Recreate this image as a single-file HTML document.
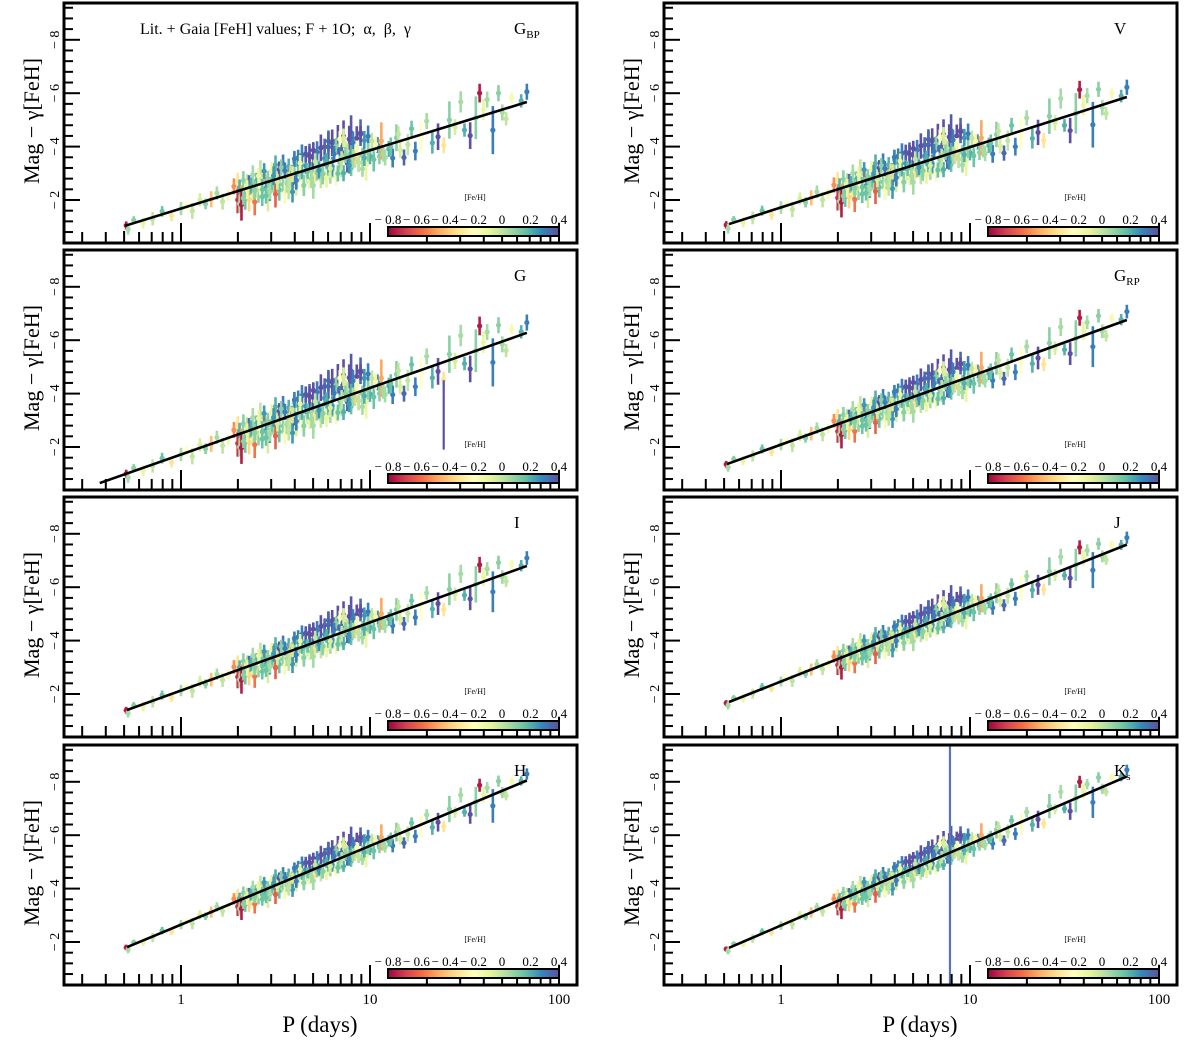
<!DOCTYPE html>
<html><head><meta charset="utf-8"><style>
html,body{margin:0;padding:0;background:#fff;overflow:hidden;width:1200px;height:1042px;}
svg{display:block;font-family:"Liberation Serif",serif;overflow:hidden;}
</style></head><body>
<svg id="chart" width="1200" height="1042" viewBox="0 0 1200 1042" xmlns="http://www.w3.org/2000/svg"></svg>
<script>
// ---- data ----
const bands = ["GBP","V","G","GRP","I","J","H","Ks"];
const intercepts = [-1.68,-1.72,-1.72,-2.09,-2.13,-2.47,-2.65,-2.62];
const slopes = [-2.18,-2.26,-2.49,-2.55,-2.55,-2.80,-2.95,-3.05];
const lineStart = [-0.296,-0.275,-0.43,-0.286,-0.286,-0.275,-0.286,-0.275];
const lineEnd = [1.83,1.83,1.83,1.83,1.83,1.83,1.83,1.83];
const scatterScale = [1.1,1.05,1.1,0.9,0.85,0.75,0.7,0.7];
const errScale = [1.0,0.95,1.0,0.85,0.85,0.75,0.7,0.65];
const fehTicks = [-0.8,-0.6,-0.4,-0.2,0,0.2,0.4];
const fehTickLabels = ["\u2212 0.8","\u2212 0.6","\u2212 0.4","\u2212 0.2","0","0.2","0.4"];
const yTickValues = [-2,-4,-6,-8];
const xTickValues = [1,10,100];
// stars: log10 period, residual (mag, negative = brighter), [Fe/H], error
const logP = [-0.29,-0.28,-0.25,-0.2,-0.15,-0.1,-0.05,0.0,0.03,0.06,0.1,0.13,0.16,0.19,0.22,0.25,0.28,0.3,0.3,0.31,0.31,0.32,0.32,0.33,0.34,0.34,0.35,0.36,0.37,0.38,0.38,0.39,0.4,0.41,0.42,0.42,0.43,0.44,0.45,0.46,0.46,0.47,0.48,0.49,0.5,0.5,0.51,0.52,0.53,0.54,0.54,0.55,0.56,0.57,0.58,0.58,0.59,0.6,0.6,0.61,0.62,0.63,0.64,0.64,0.65,0.66,0.67,0.68,0.68,0.69,0.7,0.7,0.71,0.72,0.73,0.74,0.74,0.75,0.76,0.77,0.78,0.78,0.79,0.8,0.8,0.81,0.82,0.83,0.84,0.84,0.85,0.86,0.86,0.87,0.88,0.89,0.9,0.9,0.91,0.92,0.93,0.94,0.95,0.96,0.97,0.98,0.99,1.0,1.01,1.02,1.04,1.05,1.06,1.08,1.1,1.12,1.14,1.16,1.18,1.2,1.22,1.24,1.27,1.3,1.33,1.36,1.39,1.42,1.45,1.48,1.5,1.53,1.56,1.58,1.6,1.62,1.65,1.68,1.7,1.72,1.75,1.8,1.83,0.33,0.36,0.4,0.44,0.48,0.52,0.56,0.6,0.64,0.68,0.72,0.76,0.8,0.84,0.88,0.92,0.96,0.35,0.45,0.55,0.65,0.75,0.85,0.95,0.62,0.66,0.7,0.78,0.82,0.86,0.9,0.94,
0.41,0.43,0.47,0.49,0.51,0.53,0.57,0.59,0.61,0.63,0.67,0.69,0.71,0.73,0.75,0.77,0.79,0.81,0.83,0.85,0.87,0.89,0.91,0.93,0.97,0.99,1.03,1.07,1.11,1.15,0.37,0.39,0.55,0.59,0.65,0.71,0.83,0.87];
const resid = [0.0,0.15,-0.1,0.1,0.05,-0.1,0.15,0.0,-0.05,0.2,-0.1,0.1,0.0,-0.15,0.2,0.05,-0.2,0.3,-0.35,0.45,-0.1,0.2,0.5,-0.3,0.1,0.35,-0.2,0.4,0.0,-0.4,0.25,0.55,-0.15,0.3,0.1,-0.45,0.45,-0.25,0.2,0.6,-0.1,0.35,-0.35,0.15,0.5,-0.5,0.0,0.4,-0.2,0.25,-0.45,0.55,0.1,-0.3,0.3,-0.05,0.6,-0.4,0.2,0.45,-0.25,0.1,-0.55,0.35,0.5,-0.15,0.2,-0.45,0.4,0.05,-0.35,0.6,0.25,-0.5,0.1,0.45,-0.6,0.3,-0.2,0.5,-0.55,0.15,0.4,-0.65,0.25,-0.4,0.55,-0.7,0.1,-0.5,0.35,-0.75,0.5,-0.3,0.2,-0.6,-0.8,0.4,-0.45,0.15,-0.55,0.3,-0.7,0.1,-0.4,0.45,-0.5,0.2,-0.3,0.35,-0.1,0.3,-0.2,0.4,0.15,0.5,-0.15,0.3,0.6,0.2,-0.3,0.5,0.1,-0.4,0.4,0.25,0.6,-0.2,0.1,-0.7,0.3,0.55,0.0,-0.8,-0.2,-0.5,0.6,-0.6,0.1,0.35,-0.3,-0.1,-0.35,0.3,-0.15,0.2,-0.4,0.1,-0.3,0.25,-0.5,0.0,-0.45,0.2,-0.6,0.15,-0.7,-0.2,0.1,0.55,0.05,0.45,-0.15,0.5,0.3,-0.2,-0.65,-0.5,-0.55,-0.6,-0.75,-0.5,-0.7,
-0.1,0.3,-0.3,0.2,0.35,-0.15,0.1,-0.35,0.45,-0.05,0.25,-0.3,0.05,0.35,-0.2,0.15,0.3,-0.1,0.2,-0.25,0.45,0.05,-0.1,0.3,0.1,-0.2,0.2,0.05,-0.15,0.25,0.1,-0.25,-0.05,0.15,-0.2,0.0,-0.1,0.3];
const feh = [-0.75,0.05,0.1,-0.1,0.0,0.15,-0.3,0.05,-0.2,0.0,-0.05,0.1,-0.4,0.05,0.0,-0.15,-0.5,-0.7,-0.3,0.05,0.2,-0.45,-0.75,0.1,-0.1,0.15,0.0,-0.35,0.3,0.05,-0.05,-0.55,0.2,0.1,-0.2,0.0,0.15,-0.4,0.25,-0.05,0.1,0.3,-0.1,0.05,-0.6,0.2,0.0,0.15,-0.25,0.1,0.3,-0.15,0.05,0.2,0.0,-0.35,0.25,0.1,0.35,-0.05,0.15,0.05,0.3,-0.2,0.1,0.25,0.0,0.35,-0.1,0.2,0.4,0.05,-0.3,0.3,0.15,0.0,0.4,0.1,0.25,-0.1,0.35,0.2,0.05,0.4,0.15,0.35,-0.15,0.4,0.1,0.3,0.0,0.4,0.2,-0.05,0.35,0.4,0.38,0.15,0.3,0.05,0.4,0.2,0.35,0.1,0.25,-0.1,0.3,0.2,0.0,0.15,0.25,0.1,-0.45,0.05,0.2,0.3,0.1,-0.05,0.35,0.0,0.15,0.3,-0.2,0.05,0.2,0.4,-0.3,0.1,-0.05,0.05,0.2,0.4,0.1,-0.75,-0.1,0.05,0.3,0.1,0.05,0.0,-0.15,0.2,0.3,0.1,0.35,0.0,0.25,0.15,0.4,0.05,0.3,0.2,0.4,0.1,0.35,0.25,-0.2,0.0,-0.35,0.05,-0.1,0.15,-0.25,0.1,0.38,0.35,0.4,0.3,0.38,0.4,0.35,
0.1,-0.05,0.2,0.0,-0.1,0.15,0.05,0.25,-0.05,0.1,0.0,0.2,0.3,-0.1,0.15,0.05,0.0,0.25,0.1,0.2,-0.05,0.3,0.15,0.0,0.1,0.25,0.05,-0.15,0.2,0.1,-0.25,0.05,0.15,0.0,0.2,0.1,0.3,-0.05];
const err = [0.15,0.2,0.15,0.2,0.25,0.2,0.2,0.25,0.2,0.3,0.25,0.2,0.3,0.25,0.3,0.2,0.3,0.5,0.3,0.35,0.3,0.4,0.6,0.35,0.3,0.4,0.3,0.45,0.3,0.35,0.3,0.5,0.3,0.35,0.3,0.4,0.35,0.3,0.3,0.45,0.3,0.35,0.3,0.3,0.5,0.35,0.3,0.4,0.3,0.3,0.35,0.4,0.3,0.3,0.35,0.3,0.4,0.35,0.3,0.35,0.3,0.3,0.4,0.35,0.4,0.3,0.3,0.45,0.3,0.3,0.35,0.5,0.3,0.4,0.3,0.35,0.5,0.3,0.3,0.35,0.55,0.3,0.35,0.5,0.3,0.4,0.3,0.55,0.3,0.4,0.3,0.6,0.3,0.3,0.35,0.5,0.65,0.3,0.4,0.3,0.45,0.35,0.5,0.3,0.35,0.6,0.4,0.3,0.3,0.45,0.3,0.3,0.7,0.3,0.3,0.35,0.5,0.3,0.3,0.4,0.3,0.35,0.6,0.3,0.4,0.5,0.3,0.7,0.3,0.4,0.25,0.5,0.8,0.35,0.4,0.3,0.9,0.3,0.3,0.25,0.2,0.25,0.3,0.25,0.3,0.25,0.3,0.25,0.3,0.35,0.3,0.3,0.35,0.3,0.3,0.35,0.3,0.3,0.3,0.3,0.35,0.3,0.3,0.3,0.3,0.3,0.3,0.3,0.3,0.3,0.4,0.3,0.35,
0.3,0.35,0.3,0.4,0.3,0.35,0.3,0.3,0.4,0.3,0.35,0.3,0.3,0.35,0.3,0.3,0.4,0.3,0.35,0.3,0.3,0.35,0.3,0.3,0.35,0.3,0.3,0.35,0.3,0.3,0.35,0.3,0.3,0.35,0.3,0.3,0.35,0.3];
// band-specific outlier error bars
const outlierBand = [2,7];
const outlierLogP = [1.39,0.894];
const outlierMag = [-3.2,-5.0];
const outlierErr = [1.3,20];
const outlierFeh = [0.4,0.35];

// ---- layout ----
const svg = document.getElementById('chart');
const NS = 'http://www.w3.org/2000/svg';
const panelTops = [3,250,497,745];
const colLeft = [64,664];
const panelW = 513, panelH = 240;
function xScale(col, lp){ return 181 + col*600 + 189*lp; }
function yScale(row, mag){ return panelTops[row] + 197 + (mag + 2)*26.7; }
const spectral = ["#9e0142","#d53e4f","#f46d43","#fdae61","#fee08b","#ffffbf","#e6f598","#abdda4","#66c2a5","#3288bd","#5e4fa2"];
function hex(h){return [parseInt(h.substr(1,2),16),parseInt(h.substr(3,2),16),parseInt(h.substr(5,2),16)];}
function cmap(v){
  let t=(v+0.8)/1.2; t=Math.max(0,Math.min(1,t));
  const p=t*10, i=Math.min(9,Math.floor(p)), f=p-i;
  const a=hex(spectral[i]), b=hex(spectral[i+1]);
  return 'rgb('+a.map((c,k)=>Math.round(c+(b[k]-c)*f)).join(',')+')';
}
function el(tag, attrs, parent){
  const e=document.createElementNS(NS,tag);
  for(const k in attrs) e.setAttribute(k,attrs[k]);
  (parent||svg).appendChild(e); return e;
}
const defs = el('defs',{});
const grad = el('linearGradient',{id:'spec',x1:'0',x2:'1',y1:'0',y2:'0'},defs);
spectral.forEach((c,i)=>el('stop',{offset:(i/10).toString(),'stop-color':c},grad));

const bandLabels = [["G","BP"],["V",""],["G",""],["G","RP"],["I",""],["J",""],["H",""],["K","s"]];

for(let b=0;b<8;b++){
  const row=Math.floor(b/2), col=b%2;
  const x0=colLeft[col], y0=panelTops[row];
  const g=el('g',{});
  
  
  const cp=el('clipPath',{id:'cp'+b},defs);
  el('rect',{x:x0,y:y0,width:panelW,height:panelH},cp);
  const pts=el('g',{'clip-path':'url(#cp'+b+')'},g);
  
  
  const n=Math.min(logP.length,resid.length,feh.length,err.length);
  for(let i=0;i<n;i++){
    const m=intercepts[b]+slopes[b]*logP[i]+resid[i]*scatterScale[b];
    const e=err[i]*errScale[b];
    const x=xScale(col,logP[i]);
    const c=cmap(feh[i]);
    const ln=el('line',{x1:x,x2:x,y1:yScale(row,m-e),y2:yScale(row,m+e),stroke:c,'stroke-width':2.6},pts);
    
    
    const pt=el('circle',{cx:x,cy:yScale(row,m),r:2.6,fill:c},pts);
    
    
  }
  for(let k=0;k<outlierBand.length;k++){
    if(outlierBand[k]!==b) continue;
    const x=xScale(col,outlierLogP[k]);
    const c=cmap(outlierFeh[k]);
    const o=el('line',{x1:x,x2:x,y1:yScale(row,outlierMag[k]-outlierErr[k]),y2:yScale(row,outlierMag[k]+outlierErr[k]),stroke:b===7?'#5873b8':c,'stroke-width':2.2},pts);
    
    
  }
  const fl=el('line',{x1:xScale(col,lineStart[b]),y1:yScale(row,intercepts[b]+slopes[b]*lineStart[b]),x2:xScale(col,lineEnd[b]),y2:yScale(row,intercepts[b]+slopes[b]*lineEnd[b]),stroke:'#000','stroke-width':2.6},g);
  
  
  const fr=el('rect',{x:x0,y:y0,width:panelW,height:panelH,fill:'none',stroke:'#000','stroke-width':3},g);
  
  
  for(let m=-0.4;m>=-9.4;m-=0.4){
    const mm=Math.round(m*10)/10;
    const major=Math.abs(mm%2)<0.01;
    const y=yScale(row,mm);
    if(y<y0+2||y>y0+panelH-2) continue;
    el('line',{x1:x0,x2:x0+(major?16:9),y1:y,y2:y,stroke:'#000','stroke-width':2},g);
  }
  yTickValues.forEach(v=>{
    const y=yScale(row,v);
    const t=el('text',{x:0,y:0,transform:'translate('+(x0-5)+','+y+') rotate(-90)','text-anchor':'middle','font-size':14},g);
    t.textContent='\u2212 '+Math.abs(v);
    
    
  });
  for(let d=-1;d<=2;d++){
    for(let k=1;k<=9;k++){
      const lp=d+Math.log10(k);
      const x=xScale(col,lp);
      if(x<x0+3||x>x0+panelW-3) continue;
      const h=k===1?20:(k===5?12:11);
      el('line',{x1:x,x2:x,y1:y0+panelH,y2:y0+panelH-h,stroke:'#000','stroke-width':2},g);
    }
  }
  const yt=el('text',{x:0,y:0,transform:'translate('+(x0-25)+','+(y0+118)+') rotate(-90)','text-anchor':'middle','font-size':22},g);
  yt.textContent='Mag \u2212 \u03b3[FeH]';
  
  
  const bl=el('text',{x:x0+450,y:y0+31,'font-size':17},g);
  
  
  bl.textContent=bandLabels[b][0];
  if(bandLabels[b][1]){const s=el('tspan',{'font-size':11,dy:4},bl); s.textContent=bandLabels[b][1];}
  const cbx=x0+324, cbw=171, cby=y0+224;
  const cb=el('rect',{x:cbx,y:cby,width:cbw,height:9,fill:'url(#spec)',stroke:'#000','stroke-width':2},g);
  
  
  fehTicks.forEach((v,i)=>{
    const t=el('text',{x:cbx+(v+0.8)/1.2*cbw,y:cby-3,'text-anchor':'middle','font-size':13},g);
    t.textContent=fehTickLabels[i];
    
    
  });
  const ct=el('text',{x:cbx+87,y:y0+197,'text-anchor':'middle','font-size':8},g);
  ct.textContent='[Fe/H]';
  
  
}
const tt=el('text',{x:140,y:34,'font-size':16});
tt.textContent='Lit. + Gaia [FeH] values; F + 1O;\u00a0\u00a0\u03b1,\u00a0\u00a0\u03b2,\u00a0\u00a0\u03b3';


for(let col=0;col<2;col++){
  xTickValues.forEach(v=>{
    const t=el('text',{x:xScale(col,Math.log10(v)),y:1004,'text-anchor':'middle','font-size':15});
    t.textContent=String(v);
    
    
  });
  const xt=el('text',{x:xScale(col,1)-50,y:1032,'text-anchor':'middle','font-size':23});
  xt.textContent='P (days)';
  
  
}
</script>
</body></html>
